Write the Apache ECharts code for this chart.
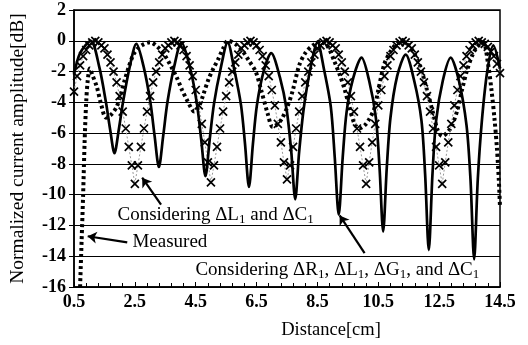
<!DOCTYPE html>
<html>
<head>
<meta charset="utf-8">
<script src="https://cdn.jsdelivr.net/npm/echarts@6/dist/echarts.min.js"></script>
<style>
  html, body { margin: 0; padding: 0; background: #fff; }
  #chart { width: 528px; height: 345px; }
</style>
</head>
<body>
<div id="chart"></div>
<script>
// distance [cm] vs normalized current amplitude [dB]
const measured = [
  [0.7, -16], [0.75, -13], [0.8, -10], [0.85, -6.5], [0.9, -4], [0.95, -2.6], [1.02, -1.8],
  [1.1, -2.2], [1.25, -3.0], [1.4, -4.2], [1.55, -5.0], [1.72, -4.8], [1.9, -4.3], [2.05, -3.4],
  [2.16, -2.6], [2.3, -1.7], [2.45, -0.9], [2.6, -0.5], [2.77, -0.25], [3.0, -0.1], [3.25, -0.4],
  [3.5, -1.0], [3.7, -1.7], [3.88, -2.4], [4.05, -3.2], [4.2, -3.8], [4.36, -4.4], [4.45, -4.6],
  [4.6, -4.3], [4.75, -3.5], [4.92, -2.5], [5.08, -1.8], [5.24, -1.2], [5.4, -0.5], [5.56, 0],
  [5.8, -0.2], [6.05, -0.7], [6.25, -1.3], [6.47, -2.0], [6.65, -3.2], [6.86, -4.7], [7.03, -5.6],
  [7.2, -5.4], [7.35, -5.0], [7.51, -4.3], [7.68, -3.3], [7.9, -1.6], [8.1, -0.8], [8.35, -0.3],
  [8.65, 0], [8.85, -0.4], [9.07, -1.4], [9.25, -2.3], [9.4, -3.2], [9.55, -4.3], [9.72, -5.4],
  [9.88, -5.7], [10.05, -5.5], [10.2, -5.1], [10.37, -4.4], [10.5, -3.2], [10.7, -1.5], [10.9, -0.7],
  [11.05, -0.3], [11.25, 0], [11.5, -0.3], [11.7, -0.9], [11.9, -1.8], [12.1, -3.2], [12.3, -4.7],
  [12.45, -5.8], [12.6, -6.2], [12.75, -6.0], [12.9, -5.6], [13.1, -4.5], [13.25, -3.2], [13.42, -1.9],
  [13.6, -0.9], [13.75, -0.4], [13.95, -0.1], [14.1, -1.4], [14.22, -3.2], [14.32, -5.1], [14.4, -7.0],
  [14.46, -9.0], [14.5, -10.8]
]

// "Considering dL1 and dC1": one marker every 0.1 cm from 0.5 cm
const lcStart = 0.5
const lcStep = 0.1
const lcDb = [
  -3.3, -2.3, -1.6, -1.0, -0.6, -0.3, -0.1, 0,
  -0.1, -0.3, -0.5, -0.9, -1.4, -2.0, -2.7, -3.6, -4.6, -5.7, -6.9, -8.1, -9.3,
  -8.1, -6.9, -5.7, -4.6, -3.6, -2.7, -2.0, -1.4, -0.9, -0.5, -0.3, -0.1, 0,
  -0.1, -0.3, -0.6, -1.0, -1.6, -2.3, -3.2, -4.2, -5.4, -6.6, -7.9, -9.2,
  -8.1, -6.9, -5.7, -4.6, -3.6, -2.7, -2.0, -1.4, -0.9, -0.5, -0.3, -0.1, 0,
  -0.1, -0.3, -0.6, -1.0, -1.6, -2.3, -3.2, -4.2, -5.4, -6.6, -7.9, -9.0,
  -8.1, -6.9, -5.7, -4.6, -3.6, -2.7, -2.0, -1.4, -0.9, -0.5, -0.3, -0.1, 0,
  -0.1, -0.3, -0.5, -0.9, -1.4, -2.0, -2.7, -3.6, -4.6, -5.7, -6.9, -8.1, -9.3,
  -7.9, -6.6, -5.4, -4.2, -3.2, -2.3, -1.6, -1.0, -0.6, -0.3, -0.1, 0,
  -0.1, -0.3, -0.5, -0.9, -1.4, -2.0, -2.7, -3.6, -4.6, -5.7, -6.9, -8.1, -9.3,
  -7.9, -6.6, -5.4, -4.2, -3.2, -2.3, -1.6, -1.0, -0.6, -0.3, -0.1, 0,
  -0.1, -0.2, -0.4, -0.7, -1.0, -1.5, -2.1
]

// "Considering dR1, dL1, dG1 and dC1"
const rlgc = [
  [0.5, -2.2], [0.7, -0.8], [1.05, 0],
  [1.33, -1.7], [1.55, -4], [1.69, -5.8], [1.83, -7.3], [1.97, -5.8], [2.11, -4], [2.33, -1.7],
  [2.55, -0.2],
  [2.79, -1.7], [3.01, -4], [3.15, -6.2], [3.29, -8.2], [3.43, -6.2], [3.57, -4], [3.79, -1.7],
  [4.03, -0.1],
  [4.32, -1.8], [4.54, -4.1], [4.68, -6.4], [4.82, -8.8], [4.96, -6.4], [5.1, -4.1], [5.32, -1.8],
  [5.55, -0.1],
  [5.77, -1.9], [5.99, -4.2], [6.12, -6.7], [6.25, -9.5], [6.38, -6.7], [6.51, -4.2], [6.73, -2.0],
  [6.98, -0.8],
  [7.27, -2.4], [7.49, -4.5], [7.64, -7.2], [7.77, -10.3], [7.9, -7.2], [8.05, -4.4], [8.27, -1.8],
  [8.5, -0.1],
  [8.72, -1.9], [8.94, -4.3], [9.07, -7.6], [9.2, -11.3], [9.33, -7.6], [9.46, -4.6], [9.68, -2.4],
  [9.95, -1.1],
  [10.2, -2.6], [10.42, -5], [10.54, -8.2], [10.66, -12.4], [10.78, -8.2], [10.9, -5], [11.12, -2.3],
  [11.4, -0.9],
  [11.68, -2.6], [11.92, -5.2], [12.04, -8.7], [12.16, -13.6], [12.28, -8.7], [12.4, -5.2], [12.62, -2.6],
  [12.88, -1.1],
  [13.15, -2.6], [13.4, -5.5], [13.53, -9], [13.65, -14.2], [13.77, -9], [13.9, -5.3], [14.08, -2],
  [14.28, -0.3], [14.5, -1.8]
]

const xTicks = ["0.5", "2.5", "4.5", "6.5", "8.5", "10.5", "12.5", "14.5"]
const yTicks = [-16, -14, -12, -10, -8, -6, -4, -2, 0, 2]

// annotation arrows: [from, to] in [cm, dB]
const arrows = [
  [[3.36, -10.65], [2.74, -8.9]],
  [[2.25, -13.1], [0.95, -12.7]],
  [[10.05, -13.8], [9.23, -11.35]]
]
const notes = [
  { at: [1.93, -11.3], text: "Considering ΔL{s|1} and ΔC{s|1}" },
  { at: [2.42, -13.1], text: "Measured" },
  { at: [4.49, -14.87], text: "Considering ΔR{s|1}, ΔL{s|1}, ΔG{s|1}, and ΔC{s|1}" }
]

// the axis runs from 0 so ticks land on 0.5, 2.5, ... after shifting
const X0 = 0.5
const shift = p => [p[0] - X0, p[1]]

const FONT = "Liberation Serif"
const crossPath = "path://M0,0L10,10M10,0L0,10"

const chart = echarts.init(document.getElementById("chart"), null, { renderer: "canvas" })

const option = {
  animation: false,
  backgroundColor: "#fff",
  grid: { left: 69, right: 28, top: 10, bottom: 58, show: true, borderColor: "#000", borderWidth: 1.5 },
  xAxis: {
    type: "value",
    min: 0,
    max: 14,
    interval: 2,
    name: "Distance[cm]",
    nameLocation: "middle",
    nameGap: 34,
    nameTextStyle: { fontFamily: FONT, fontSize: 18.5, color: "#000", padding: [0, 0, 0, 88] },
    axisLine: { onZero: false, lineStyle: { color: "#000", width: 1.5 } },
    axisTick: { inside: true, length: 5, lineStyle: { color: "#000" } },
    minorTick: { show: true, splitNumber: 5, length: 4, lineStyle: { color: "#000" } },
    splitLine: { show: false },
    axisLabel: {
      fontFamily: FONT,
      fontSize: 18,
      fontWeight: "bold",
      color: "#000",
      margin: 6,
      formatter: v => xTicks[Math.round(v / 2)]
    }
  },
  yAxis: {
    type: "value",
    min: yTicks[0],
    max: yTicks[yTicks.length - 1],
    interval: 2,
    name: "Normalized current amplitude[dB]",
    nameLocation: "middle",
    nameGap: 46,
    nameTextStyle: { fontFamily: FONT, fontSize: 19.5, color: "#000" },
    axisLine: { show: true, onZero: false, lineStyle: { color: "#000", width: 1.5 } },
    axisTick: { show: true, length: 5, lineStyle: { color: "#000" } },
    splitLine: { show: true, lineStyle: { color: "#000", width: 1.2 } },
    axisLabel: { fontFamily: FONT, fontSize: 18, fontWeight: "bold", color: "#000", margin: 8 }
  },
  series: [
    {
      name: "Measured",
      type: "line",
      data: measured.map(shift),
      symbol: "none",
      smooth: 0.3,
      lineStyle: { color: "#000", width: 4, type: [3, 3], cap: "butt" },
      z: 2
    },
    {
      name: "Considering dL1 and dC1",
      type: "line",
      data: lcDb.map((v, i) => [lcStart + i * lcStep - X0, v]),
      symbol: crossPath,
      symbolSize: 8,
      itemStyle: { color: "#000", borderColor: "#000", borderWidth: 1.7 },
      lineStyle: { color: "#999", width: 1, type: [2, 2] },
      z: 3
    },
    {
      name: "Considering dR1, dL1, dG1 and dC1",
      type: "line",
      data: rlgc.map(shift),
      symbol: "none",
      smooth: 0.3,
      lineStyle: { color: "#000", width: 2.7 },
      z: 4,
      markLine: {
        silent: true,
        symbol: ["none", "arrow"],
        symbolSize: 9,
        label: { show: false },
        lineStyle: { color: "#000", width: 2.2, type: "solid" },
        data: arrows.map(a => [{ coord: shift(a[0]) }, { coord: shift(a[1]) }])
      }
    }
  ]
}

chart.setOption(option)

// text notes placed through the chart's own coordinate system
const graphic = notes.map(n => {
  const p = chart.convertToPixel({ gridIndex: 0 }, shift(n.at))
  return {
    type: "text",
    x: p[0],
    y: p[1],
    z: 10,
    style: {
      text: n.text,
      fontFamily: FONT,
      fontSize: 19,
      fill: "#000",
      verticalAlign: "middle",
      rich: { s: { fontFamily: FONT, fontSize: 13, padding: [9, 0, 0, 0] } }
    }
  }
})
chart.setOption({ graphic })
</script>
</body>
</html>
